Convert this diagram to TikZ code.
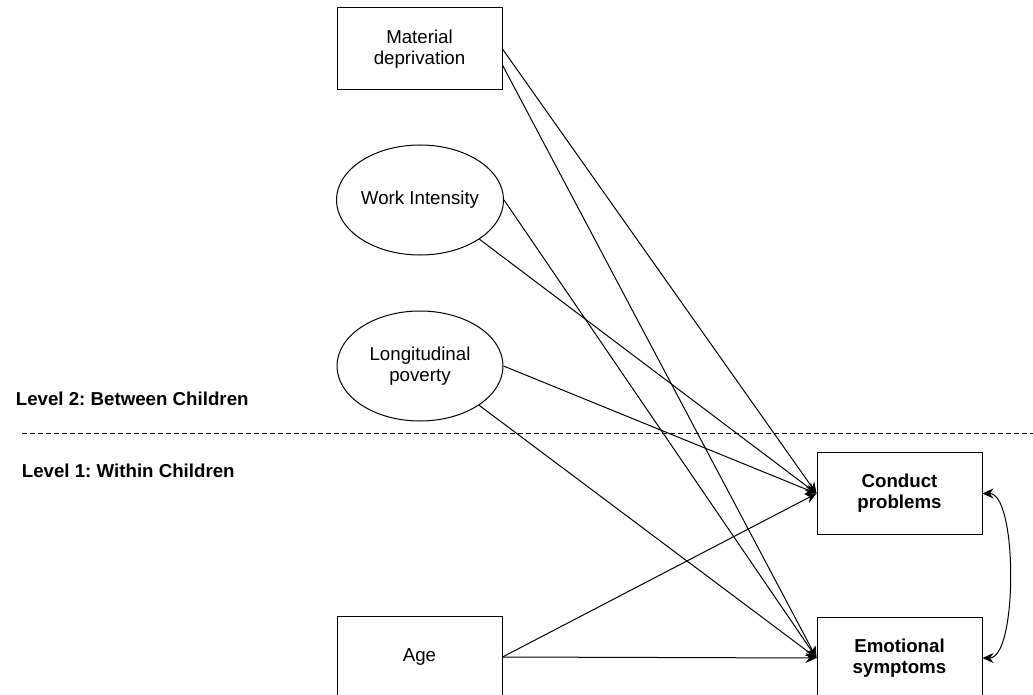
\documentclass[tikz,border=0pt]{standalone}
\usepackage{fontspec}
\setmainfont{Liberation Sans}
\usepackage{tikz}
\usetikzlibrary{shapes,arrows.meta}
\frenchspacing

\begin{document}
\begin{tikzpicture}[x=1pt,y=-1pt,line width=1pt,
  every node/.style={font=\fontsize{18.7}{21}\selectfont, align=center},
  box/.style={draw, rectangle, minimum width=165pt, minimum height=82pt, inner sep=0pt},
  oval/.style={draw, ellipse, minimum width=166pt, minimum height=110pt, inner sep=0pt},
  effect/.style={-{Stealth[length=11pt,width=10pt]}},
  covar/.style={{Stealth[length=11pt,width=10pt]}-{Stealth[length=11pt,width=10pt]}}]
\path[use as bounding box, clip] (0,0) rectangle (1033,695);
% level 2 predictors
\node[box] (md) at (419.5,49) {Material\\deprivation};
\node[oval] (wi) at (420,200) {Work Intensity};
\node[oval] (lp) at (420,366) {Longitudinal\\poverty};
% levels
\node[anchor=base west, font=\fontsize{18.7}{21}\selectfont\bfseries] (lv2) at (12,405) {Level 2: Between Children};
\node[anchor=base west, font=\fontsize{18.7}{21}\selectfont\bfseries] (lv1) at (18,477) {Level 1: Within Children};
\coordinate (divl) at (22,433);
\coordinate (divr) at (1033,433);
\draw[dash pattern=on 5pt off 3pt] (divl) -- (divr);
% level 1
\node[box] (age) at (419.5,657) {Age};
\node[box, font=\fontsize{18.7}{21}\selectfont\bfseries] (cp) at (899.5,493.5) {Conduct\\problems};
\node[box, font=\fontsize{18.7}{21}\selectfont\bfseries] (es) at (899.5,658) {Emotional\\symptoms};
% paths
\draw[effect] (md.east) -- (cp.west);
\draw[effect] (md.-11) -- (es.west);
\draw[effect] (wi.south east) -- (cp.west);
\draw[effect] (wi.east) -- (es.west);
\draw[effect] (lp.east) -- (cp.west);
\draw[effect] (lp.south east) -- (es.west);
\draw[effect] (age.east) -- (cp.west);
\draw[effect] (age.east) -- (es.west);
\draw[covar] (cp.east) to[out=0,in=0,looseness=0.55] (es.east);
\end{tikzpicture}
\end{document}
